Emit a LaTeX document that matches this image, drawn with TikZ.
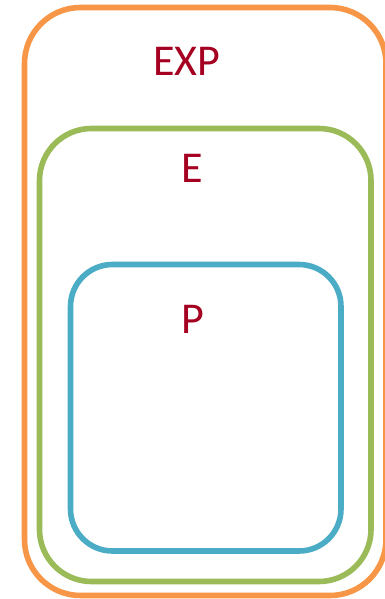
\documentclass[tikz,border=0pt]{standalone}
\usepackage{fontspec}
\setmainfont{Carlito}
\definecolor{setorange}{RGB}{247,150,70}
\definecolor{setgreen}{RGB}{155,187,89}
\definecolor{setblue}{RGB}{75,172,198}
\definecolor{labelred}{RGB}{165,0,33}
\tikzset{
  setbox/.style={line width=5.6pt},
  setlabel/.style={text=labelred, font=\fontsize{44}{50}\selectfont, inner sep=0pt, anchor=base}
}
\begin{document}
\begin{tikzpicture}[x=1pt,y=-1pt]
\useasboundingbox (0,0) rectangle (385,599);
\clip (0,0) rectangle (385,599);
\fill[white] (0,0) rectangle (385,599);
\draw[setbox, draw=setorange, rounded corners=56pt] (24.5,7.5) rectangle (386,595.5);
\draw[setbox, draw=setgreen, rounded corners=52pt] (39.5,128.5) rectangle (371,581.5);
\draw[setbox, draw=setblue, rounded corners=42pt] (70.5,264.5) rectangle (341,551);
\node[setlabel] (exp) at (187,75.7) {EXP};
\node[setlabel] (e) at (192,182.7) {E};
\node[setlabel] (p) at (192.8,333.3) {P};
\end{tikzpicture}
\end{document}
